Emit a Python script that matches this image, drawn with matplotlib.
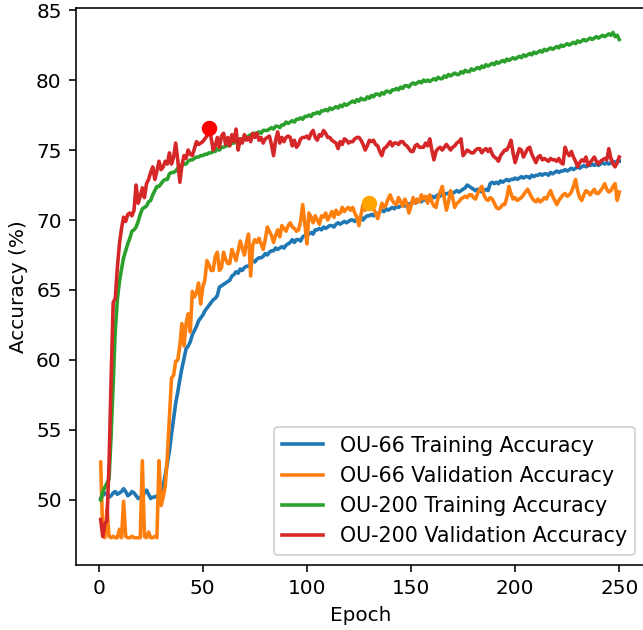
import matplotlib
matplotlib.use('Agg')
import matplotlib.pyplot as plt

# Epochs
epochs = list(range(1, 251))

# OU-66 training accuracy (%)
ou66_train = [
    50.1, 50.3, 50.5, 50.4, 50.2, 50.3, 50.5, 50.6, 50.4, 50.5,
    50.6, 50.8, 50.6, 50.3, 50.4, 50.6, 50.5, 50.3, 50.1, 50.2,
    50.2, 50.5, 50.7, 50.4, 50.1, 50.2, 50.2, 50.3, 50.3, 50.4,
    51.0, 51.8, 52.6, 53.5, 54.7, 55.8, 56.9, 57.7, 58.6, 59.4,
    60.1, 60.8, 61.0, 61.3, 61.8, 62.1, 62.4, 62.8, 63.0, 63.2,
    63.5, 63.7, 63.9, 64.1, 64.3, 64.4, 64.6, 65.2, 65.3, 65.4,
    65.5, 65.6, 65.7, 66.0, 66.1, 66.3, 66.2, 66.5, 66.4, 66.6,
    66.7, 66.7, 66.9, 67.1, 67.0, 67.2, 67.3, 67.3, 67.4, 67.6,
    67.5, 67.7, 67.8, 67.8, 68.0, 67.9, 68.0, 68.1, 68.0, 68.2,
    68.3, 68.4, 68.6, 68.4, 68.6, 68.6, 68.5, 68.8, 68.9, 68.9,
    69.0, 69.1, 69.0, 69.3, 69.3, 69.4, 69.3, 69.5, 69.4, 69.5,
    69.6, 69.6, 69.5, 69.7, 69.8, 69.7, 69.8, 69.9, 69.8, 69.9,
    70.0, 70.0, 69.9, 70.1, 70.1, 70.2, 70.0, 70.2, 70.3, 70.3,
    70.4, 70.3, 70.5, 70.4, 70.6, 70.7, 70.6, 70.8, 70.7, 70.8,
    70.9, 70.8, 71.0, 70.9, 71.0, 71.1, 71.0, 71.2, 71.1, 71.2,
    71.3, 71.2, 71.3, 71.4, 71.3, 71.5, 71.4, 71.6, 71.5, 71.7,
    71.6, 71.7, 71.8, 71.7, 71.9, 71.8, 71.9, 71.9, 72.0, 71.9,
    72.0, 72.1, 72.0, 72.1, 72.2, 72.3, 72.5, 72.4, 72.3, 72.2,
    72.1, 72.2, 72.1, 72.0, 72.1, 72.2, 72.1, 72.6, 72.7, 72.6,
    72.7, 72.6, 72.8, 72.7, 72.8, 72.9, 72.8, 72.9, 72.9, 73.0,
    72.9, 73.0, 73.1, 73.0, 73.1, 73.1, 73.0, 73.2, 73.1, 73.2,
    73.2, 73.3, 73.2, 73.3, 73.3, 73.2, 73.4, 73.3, 73.4, 73.5,
    73.4, 73.5, 73.5, 73.6, 73.5, 73.6, 73.7, 73.6, 73.7, 73.8,
    73.7, 73.8, 73.9, 73.8, 73.9, 73.9, 74.0, 73.9, 74.0, 73.9,
    74.0, 74.1, 74.0, 74.1, 74.0, 74.1, 74.2, 74.1, 74.2, 74.2,
]

# OU-66 validation accuracy (%)
ou66_val = [
    52.7, 47.4, 47.3, 49.4, 47.4, 47.3, 47.4, 47.3, 47.3, 47.9,
    47.3, 49.9, 47.4, 47.3, 47.3, 47.4, 47.3, 47.3, 47.3, 47.3,
    52.8, 47.4, 47.3, 47.7, 47.3, 47.3, 47.4, 47.3, 52.8, 49.6,
    50.2, 51.0, 53.1, 55.9, 58.7, 58.9, 59.9, 60.0, 61.0, 62.6,
    61.0, 62.6, 63.3, 62.0, 64.9, 64.5, 64.8, 65.5, 64.0, 65.2,
    65.7, 67.1, 66.8, 66.4, 66.4, 67.4, 67.7, 66.4, 66.6, 67.7,
    67.2, 66.9, 66.9, 67.9, 67.5, 67.1, 67.8, 68.5, 68.0, 67.5,
    68.4, 69.0, 66.0, 68.2, 68.6, 68.4, 68.7, 68.3, 67.9, 68.6,
    69.5, 69.2, 68.9, 68.4, 68.9, 69.3, 68.8, 69.6, 69.4, 69.2,
    69.6, 69.8, 69.5, 69.4, 69.2, 69.3, 69.9, 71.1, 69.8, 68.3,
    70.5, 70.2, 69.8, 70.3, 70.0, 69.7, 70.3, 70.2, 70.5, 70.0,
    70.3, 70.6, 70.2, 70.7, 70.4, 70.5, 70.9, 70.6, 70.8, 70.9,
    70.7, 70.9, 70.5, 70.2, 69.6, 70.4, 71.1, 70.7, 71.0, 71.2,
    71.0, 70.8, 70.5, 70.1, 70.6, 71.2, 70.9, 71.1, 71.5, 71.8,
    71.4, 71.2, 71.1, 71.6, 71.3, 71.0, 71.5, 71.2, 70.5, 71.0,
    71.6, 71.2, 71.5, 71.3, 71.8, 71.5, 71.7, 71.2, 71.8, 71.3,
    71.0, 70.9, 71.6, 72.0, 72.4, 71.5, 70.7, 71.3, 72.1, 71.6,
    70.9, 71.2, 71.3, 71.5, 71.6, 71.7, 71.6, 71.8, 71.8, 71.6,
    71.5, 71.9, 72.2, 72.4, 71.8, 71.5, 71.4, 71.6, 71.5, 71.2,
    70.9, 70.8, 70.9, 71.1, 71.1, 71.6, 72.4, 71.9, 71.5, 71.6,
    71.4, 71.5, 71.6, 71.8, 72.0, 72.2, 71.9, 71.6, 71.4, 71.3,
    71.5, 71.3, 71.4, 71.6, 71.5, 71.8, 72.1, 71.7, 71.4, 71.1,
    71.4, 71.6, 71.8, 71.9, 71.7, 71.8, 72.0, 72.4, 72.9, 72.1,
    71.6, 71.4, 71.8, 72.1, 72.0, 71.8, 72.0, 72.2, 71.9, 71.9,
    72.1, 72.3, 72.6, 72.2, 72.0, 72.1, 72.4, 72.6, 71.4, 72.0,
]

# OU-200 training accuracy (%)
ou200_train = [
    50.0, 50.6, 50.9, 51.2, 51.5, 54.6, 58.4, 62.1, 64.3, 65.6,
    66.5, 67.3, 67.8, 68.3, 68.7, 69.2, 69.3, 69.5, 69.9, 70.4,
    70.8, 70.9, 71.0, 71.3, 71.4, 71.8, 72.1, 72.4, 72.4, 72.6,
    72.8, 72.9, 72.9, 73.3, 73.4, 73.4, 73.5, 73.7, 73.9, 73.9,
    74.0, 74.0, 74.2, 74.3, 74.3, 74.4, 74.5, 74.5, 74.6, 74.6,
    74.7, 74.7, 74.8, 74.8, 74.9, 74.9, 75.1, 75.0, 75.2, 75.2,
    75.3, 75.3, 75.4, 75.5, 75.5, 75.7, 75.6, 75.8, 75.8, 75.9,
    75.9, 76.0, 76.1, 76.0, 76.2, 76.2, 76.3, 76.2, 76.4, 76.4,
    76.4, 76.5, 76.6, 76.5, 76.7, 76.7, 76.6, 76.8, 76.8, 77.0,
    76.9, 77.0, 77.1, 77.0, 77.2, 77.2, 77.3, 77.2, 77.4, 77.4,
    77.5, 77.4, 77.6, 77.6, 77.7, 77.6, 77.8, 77.8, 77.9, 77.8,
    78.0, 77.9, 78.0, 78.1, 78.0, 78.2, 78.1, 78.3, 78.2, 78.3,
    78.4, 78.5, 78.4, 78.6, 78.5, 78.7, 78.6, 78.6, 78.8, 78.7,
    78.9, 78.8, 79.0, 79.0, 78.9, 79.1, 79.0, 79.2, 79.2, 79.1,
    79.3, 79.3, 79.4, 79.3, 79.5, 79.4, 79.6, 79.6, 79.5, 79.7,
    79.8, 79.7, 79.8, 79.9, 79.8, 80.0, 79.9, 80.0, 79.9, 80.0,
    80.1, 80.0, 80.2, 80.1, 80.1, 80.3, 80.2, 80.4, 80.3, 80.4,
    80.5, 80.4, 80.4, 80.6, 80.5, 80.7, 80.6, 80.6, 80.8, 80.7,
    80.8, 80.9, 80.8, 81.0, 80.9, 81.1, 81.0, 81.1, 81.2, 81.1,
    81.3, 81.2, 81.3, 81.4, 81.3, 81.5, 81.4, 81.5, 81.6, 81.5,
    81.6, 81.7, 81.6, 81.8, 81.7, 81.8, 81.9, 81.8, 82.0, 81.9,
    82.0, 82.1, 82.0, 82.2, 82.1, 82.2, 82.3, 82.2, 82.3, 82.4,
    82.3, 82.5, 82.4, 82.5, 82.6, 82.5, 82.6, 82.7, 82.6, 82.8,
    82.7, 82.8, 82.9, 82.8, 82.9, 83.0, 82.9, 83.0, 83.1, 83.0,
    83.1, 83.2, 83.1, 83.2, 83.3, 83.2, 83.4, 83.1, 83.2, 82.9,
]

# OU-200 validation accuracy (%)
ou200_val = [
    48.6, 47.4, 48.3, 48.5, 52.5, 58.6, 64.1, 64.4, 66.6, 68.3,
    69.4, 70.2, 69.9, 70.4, 70.5, 70.3, 70.7, 72.5, 71.2, 71.7,
    72.3, 71.6, 72.6, 72.9, 73.4, 73.8, 72.9, 73.5, 74.2, 73.6,
    73.8, 74.2, 74.0, 74.8, 74.0, 74.5, 75.5, 74.3, 72.7, 73.9,
    74.6, 74.4, 75.0, 74.7, 74.6, 75.1, 75.6, 75.4, 75.5, 75.6,
    75.8, 76.0, 76.6, 75.9, 75.0, 75.3, 75.9, 75.2, 76.0, 76.2,
    75.4, 75.9, 75.3, 76.1, 75.6, 76.5, 75.0, 75.8, 75.5, 76.1,
    75.7, 75.9, 75.6, 76.2, 75.9, 76.2, 75.7, 75.9, 75.5, 75.8,
    75.9, 76.0, 75.4, 74.6, 75.7, 76.3, 75.5, 75.9, 75.6, 75.9,
    76.0, 75.9, 75.3, 75.7, 75.2, 75.4, 75.8, 75.9, 75.9, 76.0,
    75.8, 76.2, 76.4, 75.9, 75.7, 76.1, 76.0, 76.4, 76.2, 75.9,
    75.9, 75.7, 75.6, 75.5, 75.1, 75.6, 75.4, 75.8, 75.7, 75.5,
    75.6, 75.6, 75.8, 75.9, 75.9, 75.7, 75.4, 75.0, 75.3, 75.7,
    75.6, 75.7, 75.4, 75.3, 74.9, 74.6, 75.1, 75.2, 75.4, 75.6,
    75.3, 75.5, 75.5, 75.4, 75.6, 75.6, 75.4, 75.3, 75.1, 74.9,
    74.9, 75.3, 75.4, 75.2, 75.2, 75.2, 75.5, 75.3, 75.8, 75.0,
    74.3, 74.9, 75.1, 75.2, 75.0, 75.2, 75.4, 75.2, 75.0, 75.2,
    75.3, 75.5, 75.6, 75.8, 74.6, 74.8, 75.0, 74.9, 74.8, 74.8,
    75.0, 75.1, 75.1, 74.8, 75.0, 75.1, 74.9, 75.1, 74.7, 74.5,
    74.4, 74.2, 74.6, 74.8, 75.0, 75.0, 75.3, 75.7, 74.8, 74.1,
    74.6, 75.1, 75.0, 74.5, 74.8, 75.1, 75.2, 74.7, 74.4, 74.1,
    74.5, 74.6, 74.3, 74.4, 74.3, 74.2, 74.4, 74.3, 74.3, 74.2,
    74.4, 74.1, 74.0, 75.2, 74.8, 74.6, 74.9, 74.5, 74.2, 73.8,
    74.1, 74.3, 74.2, 74.5, 73.9, 74.1, 74.3, 74.5, 74.2, 74.0,
    74.2, 74.3, 74.4, 74.3, 75.1, 74.4, 74.0, 73.8, 74.1, 74.5,
]

# highlighted points
best_200 = (53, 76.6)
best_66 = (130, 71.2)

labels = ['OU-66 Training Accuracy', 'OU-66 Validation Accuracy',
          'OU-200 Training Accuracy', 'OU-200 Validation Accuracy']

fig = plt.figure(figsize=(643 / 144, 630 / 144), dpi=144)
ax = fig.add_axes([75.7 / 643, (630 - 565) / 630, (645.3 - 75.7) / 643, (565 - 8) / 630])

lw = 1.8
ax.plot(epochs, ou66_train, label=labels[0], lw=lw)
ax.plot(epochs, ou66_val, label=labels[1], lw=lw)
ax.plot(epochs, ou200_train, label=labels[2], lw=lw)
ax.plot(epochs, ou200_val, label=labels[3], lw=lw)

ax.scatter([best_66[0]], [best_66[1]], color='orange', s=45, zorder=3)
ax.scatter([best_200[0]], [best_200[1]], color='red', s=45, zorder=3)

ax.set_xlim(-11, 262.5)
ax.set_ylim(45.35, 85.15)
ax.set_xticks([0, 50, 100, 150, 200, 250])
ax.set_yticks([50, 55, 60, 65, 70, 75, 80, 85])
ax.set_xlabel('Epoch')
ax.set_ylabel('Accuracy (%)')
ax.legend(loc='lower right', fontsize=10.3)

fig.savefig('out.png', dpi=144)
